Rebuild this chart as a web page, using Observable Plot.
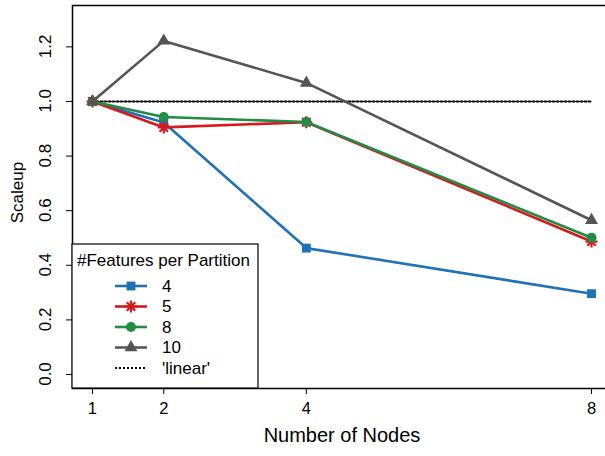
<!DOCTYPE html>
<html><head><meta charset="utf-8">
<script src="https://cdn.jsdelivr.net/npm/d3@7"></script>
<script src="https://cdn.jsdelivr.net/npm/@observablehq/plot@0.6"></script>
<style>
body{margin:0;background:#fff;overflow:hidden;font-family:"Liberation Sans",Arial,sans-serif}
svg{overflow:hidden}
</style>
</head><body><div id="chart"></div>
<script>
// ---- data ----
const nodes = [1, 2, 4, 8];
const seriesNames = ["4", "5", "8", "10"];
const feat4 = [1.0, 0.923, 0.463, 0.296];
const feat5 = [1.0, 0.905, 0.924, 0.487];
const feat8 = [1.0, 0.943, 0.925, 0.501];
const feat10 = [1.0, 1.222, 1.068, 0.565];
const linearRef = [1.0, 1.0, 1.0, 1.0];
const yTicks = [0.0, 0.2, 0.4, 0.6, 0.8, 1.0, 1.2];
const colors = ["#2171b5", "#d7191c", "#238b45", "#555555"];
const legendTitle = "#Features per Partition";
const linearLabel = "'linear'";
const xTitle = "Number of Nodes";
const yTitle = "Scaleup";

// 8-spoke asterisk (R pch = 8)
const asterisk8 = {
  draw(ctx, size) {
    const r = Math.sqrt(size / Math.PI);
    for (let k = 0; k < 4; k++) {
      const a = k * Math.PI / 4;
      ctx.moveTo(r * Math.cos(a), r * Math.sin(a));
      ctx.lineTo(-r * Math.cos(a), -r * Math.sin(a));
    }
  }
};
const symbols = ["square", asterisk8, "circle", "triangle"];
const allValues = [feat4, feat5, feat8, feat10];

const rows = allValues.map((vals, i) => nodes.map((n, j) => ({nodes: n, value: vals[j], series: seriesNames[i]})));
const linRows = nodes.map((n, j) => ({nodes: n, value: linearRef[j]}));

const marks = [
  Plot.frame({stroke: "black", strokeWidth: 1.5}),
  Plot.axisX({ticks: nodes, tickSize: 6, tickPadding: 8, fontSize: 16.5, label: null, tickFormat: d => String(d)}),
  Plot.axisY({ticks: yTicks, tickSize: 6, tickFormat: () => "", label: null}),
  Plot.text([xTitle], {frameAnchor: "bottom", dy: 53, fontSize: 20, fill: "black"}),
  Plot.line(linRows, {x: "nodes", y: "value", stroke: "black", strokeWidth: 2, strokeDasharray: "2,2"})
];
rows.forEach((data, i) => {
  marks.push(Plot.line(data, {x: "nodes", y: "value", stroke: colors[i], strokeWidth: 2.6}));
  if (i === 1) {
    marks.push(Plot.dot(data, {x: "nodes", y: "value", symbol: asterisk8, r: 6, stroke: colors[i], strokeWidth: 2.2, fill: "none"}));
  } else {
    marks.push(Plot.dot(data, {x: "nodes", y: "value", symbol: symbols[i], r: i === 3 ? 4.8 : 5, fill: colors[i], stroke: "none"}));
  }
});

const chart = Plot.plot({
  width: 605,
  height: 456,
  marginLeft: 72,
  marginRight: -6,
  marginTop: 5,
  marginBottom: 68,
  style: {fontFamily: "'Liberation Sans', Arial, sans-serif", color: "black", background: "white"},
  x: {domain: [0.72, 8.28], type: "linear"},
  y: {domain: [-0.0513, 1.3516]},
  marks
});
document.getElementById("chart").appendChild(chart);

const svg = d3.select(chart);
const yScale = chart.scale("y");

// rotated y tick labels and y title, positioned through Plot's y scale
const ty = svg.append("g").style("font-family", "'Liberation Sans', Arial, sans-serif").attr("fill", "black");
yTicks.forEach(v => {
  const py = yScale.apply(v);
  ty.append("text").attr("transform", `translate(45,${py}) rotate(-90)`)
    .style("font-size", "17px").style("text-anchor", "middle").attr("dy", "0.35em")
    .text(v.toFixed(1));
});
const midY = (yScale.apply(yScale.domain[0]) + yScale.apply(yScale.domain[1])) / 2;
ty.append("text").attr("transform", `translate(17,${midY - 4}) rotate(-90)`)
  .style("font-size", "17px").style("text-anchor", "middle").attr("dy", "0.35em")
  .text(yTitle);

// ---- legend (overlay, built from the series arrays) ----
const g = svg.append("g").style("font-family", "'Liberation Sans', Arial, sans-serif")
  .style("font-size", "17px").style("text-anchor", "start").attr("fill", "black");
const lx = 72, ly = 244, lw = 186, lh = 144;
g.append("rect").attr("x", lx).attr("y", ly).attr("width", lw).attr("height", lh)
  .attr("fill", "white").attr("stroke", "black").attr("stroke-width", 1.2);
g.append("text").attr("x", lx + 5).attr("y", ly + 16).attr("dy", "0.35em").text(legendTitle);
const rowY = k => ly + 42 + k * 20.5;
seriesNames.forEach((name, i) => {
  const y = rowY(i);
  g.append("line").attr("x1", 115).attr("x2", 147).attr("y1", y).attr("y2", y)
    .attr("stroke", colors[i]).attr("stroke-width", 2.6);
  if (i === 1) {
    g.append("path").attr("transform", `translate(131,${y})`)
      .attr("d", d3.symbol(asterisk8, Math.PI * 6 * 6)())
      .attr("stroke", colors[i]).attr("stroke-width", 2.2).attr("fill", "none");
  } else {
    const sym = i === 0 ? d3.symbolSquare : i === 2 ? d3.symbolCircle : d3.symbolTriangle;
    const r = i === 3 ? 4.8 : 5;
    g.append("path").attr("transform", `translate(131,${y})`)
      .attr("d", d3.symbol(sym, Math.PI * r * r)()).attr("fill", colors[i]);
  }
  g.append("text").attr("x", 162).attr("y", y).attr("dy", "0.35em").text(name);
});
const yl = rowY(4);
g.append("line").attr("x1", 115).attr("x2", 147).attr("y1", yl).attr("y2", yl)
  .attr("stroke", "black").attr("stroke-width", 2).attr("stroke-dasharray", "2,2");
g.append("text").attr("x", 162).attr("y", yl).attr("dy", "0.35em").text(linearLabel);
</script>
</body></html>
